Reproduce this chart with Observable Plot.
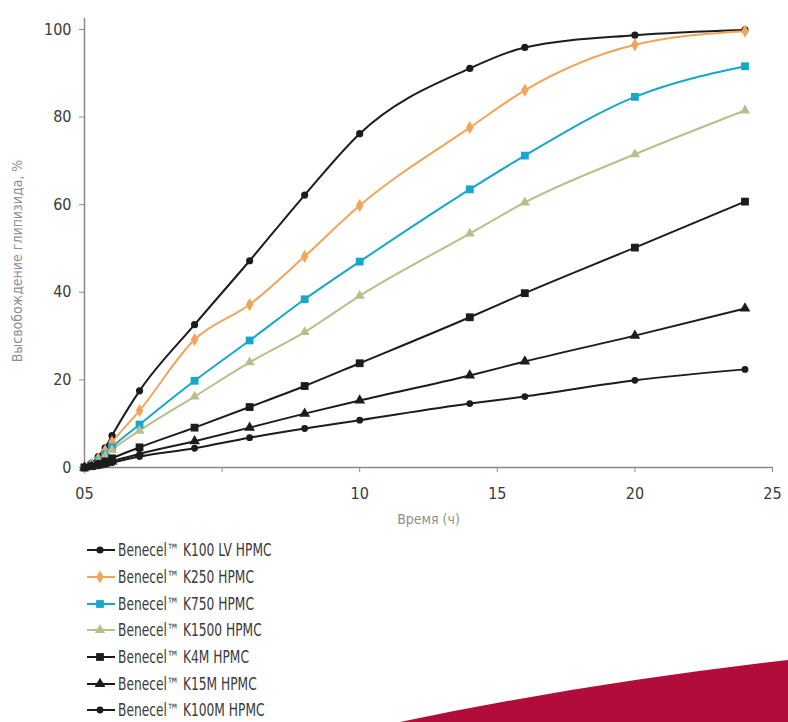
<!DOCTYPE html>
<html>
<head>
<meta charset="utf-8">
<script src="https://cdn.jsdelivr.net/npm/d3@7"></script>
<script src="https://cdn.jsdelivr.net/npm/@observablehq/plot@0.6"></script>
<style>
  html, body { margin: 0; padding: 0; background: #fff; }
  #wrap { position: relative; width: 788px; height: 722px; overflow: hidden; font-family: "Liberation Sans Narrow", "DejaVu Sans Condensed", sans-serif; }
  #legend { position: absolute; left: 86px; top: 537px; }
  .item { display: flex; align-items: center; height: 26.7px; font-size: 17px; color: #3a3a3a; white-space: nowrap; }
  .item svg { margin-right: 2px; flex: none; }
  .item span { display: inline-block; transform: scaleX(0.8); transform-origin: left center; }
  #deco { position: absolute; left: 0; top: 0; pointer-events: none; }
</style>
</head>
<body>
<div id="wrap">
  <div id="chart"></div>
  <div id="legend"></div>
</div>
<script>
// ---- data ----
const times = [0, 0.25, 0.5, 0.75, 1, 2, 4, 6, 8, 10, 14, 16, 20, 24];
const seriesNames = [
  "Benecel™ K100 LV HPMC",
  "Benecel™ K250 HPMC",
  "Benecel™ K750 HPMC",
  "Benecel™ K1500 HPMC",
  "Benecel™ K4M HPMC",
  "Benecel™ K15M HPMC",
  "Benecel™ K100M HPMC"
];
const k100lv = [0, 1.0, 2.5, 4.5, 7.3, 17.5, 32.6, 47.2, 62.2, 76.2, 91.1, 95.9, 98.7, 99.9];
const k250   = [0, 0.8, 2.0, 3.8, 5.8, 13.0, 29.2, 37.2, 48.2, 59.8, 77.6, 86.1, 96.5, 99.6];
const k750   = [0, 0.6, 1.6, 3.0, 4.6, 9.8, 19.8, 29.0, 38.4, 47.0, 63.5, 71.2, 84.6, 91.6];
const k1500  = [0, 0.5, 1.4, 2.6, 4.0, 8.4, 16.2, 24.0, 30.9, 39.2, 53.4, 60.5, 71.5, 81.5];
const k4m    = [0, 0.3, 0.8, 1.4, 2.1, 4.6, 9.1, 13.8, 18.6, 23.8, 34.3, 39.8, 50.2, 60.7];
const k15m   = [0, 0.2, 0.5, 0.9, 1.4, 3.1, 6.0, 9.1, 12.3, 15.3, 21.0, 24.2, 30.1, 36.3];
const k100m  = [0, 0.2, 0.4, 0.7, 1.1, 2.5, 4.4, 6.8, 8.9, 10.8, 14.6, 16.2, 19.9, 22.4];
const seriesValues = [k100lv, k250, k750, k1500, k4m, k15m, k100m];
const seriesColors = ["#1c1c1c", "#f2a558", "#17a6cc", "#b8bf8c", "#1c1c1c", "#1c1c1c", "#1c1c1c"];
const seriesSymbols = ["circle", "diamond", "square", "triangle", "square", "triangle", "circle"];
const seriesR = [3.6, 4.0, 4.4, 3.8, 4.4, 4.0, 3.4];
const xTicks = [0, 5, 10, 15, 20, 25];
const xTickLabels = ["05", "", "10", "15", "20", "25"];
const yTicks = [0, 20, 40, 60, 80, 100];
const yTickLabels = ["0", "20", "40", "60", "80", "100"];
const xLabel = "Время (ч)";
const yLabel = "Высвобождение глипизида, %";

// tidy table
const rows = [];
seriesNames.forEach((name, si) => {
  times.forEach((t, i) => rows.push({series: name, si, t, v: seriesValues[si][i]}));
});

const marks = [
  Plot.ruleX([0], {y1: 0, y2: 102.5, stroke: "#8a8a8a", strokeWidth: 1.5}),
  Plot.ruleY([0], {x1: 0, x2: 25, stroke: "#8a8a8a", strokeWidth: 1.5}),
  Plot.axisX({ticks: xTicks, tickFormat: (d, i) => xTickLabels[i], tickSize: 5, tickPadding: 15, stroke: "#8a8a8a", fill: "#3a3a3a", label: null}),
  Plot.axisY({ticks: yTicks, tickFormat: (d, i) => yTickLabels[i], tickSize: 5, tickPadding: 8, stroke: "#8a8a8a", fill: "#3a3a3a", label: null}),
  Plot.text([xLabel], {frameAnchor: "bottom", dy: 56, fill: "#8f8f8f", fontSize: 14}),
  Plot.text([yLabel], {frameAnchor: "left", textAnchor: "middle", rotate: -90, dx: -67, dy: 18, fill: "#8f8f8f", fontSize: 14})
];
seriesNames.forEach((name, si) => {
  const d = rows.filter(r => r.si === si);
  marks.push(Plot.line(d, {x: "t", y: "v", stroke: seriesColors[si], strokeWidth: 2, curve: "monotone-x"}));
});
seriesNames.forEach((name, si) => {
  const d = rows.filter(r => r.si === si);
  marks.push(Plot.dot(d, {x: "t", y: "v", fill: seriesColors[si], symbol: seriesSymbols[si], r: seriesR[si], stroke: "none"}));
});

const chart = Plot.plot({
  width: 788,
  height: 532,
  marginLeft: 84,
  marginRight: 16,
  marginTop: 18,
  marginBottom: 65,
  x: {domain: [0, 25]},
  y: {domain: [0, 102.5]},
  style: {fontFamily: "Liberation Sans Narrow, DejaVu Sans Condensed, sans-serif", fontSize: "16px", background: "white", color: "#3a3a3a"},
  marks
});
document.getElementById("chart").appendChild(chart);

// legend
const legend = d3.select("#legend");
const symMap = {circle: d3.symbolCircle, diamond: d3.symbolDiamond, square: d3.symbolSquare, triangle: d3.symbolTriangle};
seriesNames.forEach((name, si) => {
  const item = legend.append("div").attr("class", "item");
  const svg = item.append("svg").attr("width", 30).attr("height", 14);
  svg.append("line").attr("x1", 1).attr("x2", 29).attr("y1", 7).attr("y2", 7)
    .attr("stroke", seriesColors[si]).attr("stroke-width", 2);
  const r = seriesR[si];
  svg.append("path").attr("transform", "translate(14,7)")
    .attr("d", d3.symbol(symMap[seriesSymbols[si]], Math.PI * r * r)())
    .attr("fill", seriesColors[si]);
  item.append("span").text(name);
});

// decorative red swoosh (bottom right)
const deco = d3.select("#wrap").append("svg").attr("id", "deco").attr("width", 788).attr("height", 722);
deco.append("path").attr("d", "M400,722 Q580,684 788,660 L788,722 Z").attr("fill", "#b20c3a");
</script>
</body>
</html>
